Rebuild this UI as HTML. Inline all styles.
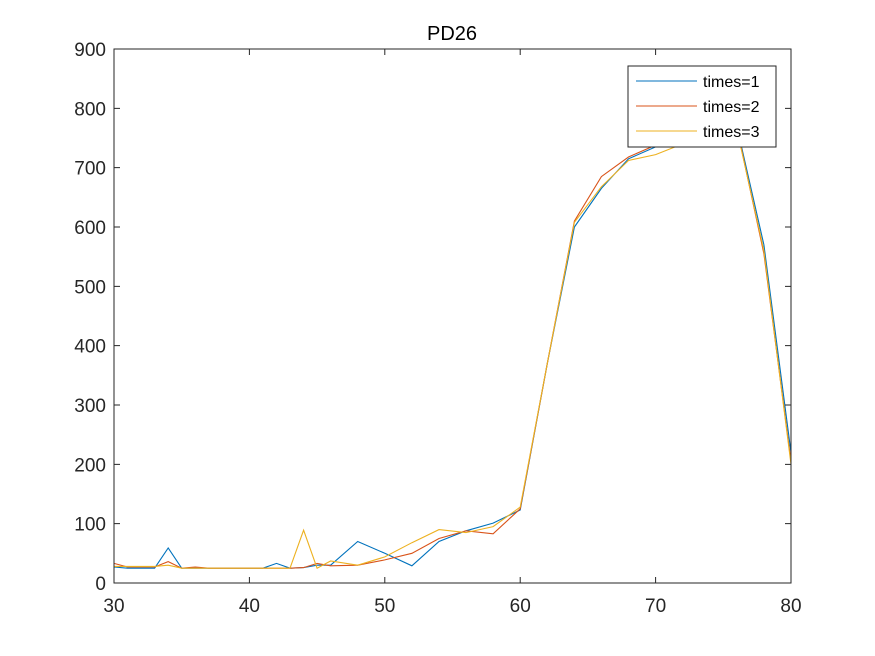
<!DOCTYPE html>
<html><head><meta charset="utf-8"><style>
body{margin:0;background:#fff;}
svg{display:block;font-family:"Liberation Sans",sans-serif;}
</style></head><body>
<svg id="chart" width="875" height="656" viewBox="0 0 875 656">
<rect x="0" y="0" width="875" height="656" fill="#fff"/>
<rect x="114" y="49" width="677" height="534" fill="#fff" stroke="none"/>
<g id="series"></g>
<rect x="114" y="49" width="677" height="534" fill="none" stroke="#262626" stroke-width="1"/>
<g id="ticks"></g>
<text x="452" y="40" text-anchor="middle" font-size="20" fill="#000">PD26</text>
<g id="legend"></g>
</svg>
<script>
const xs = [30,31,32,33,34,35,36,37,38,39,40,41,42,43,44,45,46,48,50,52,54,56,58,60,62,64,66,68,70,72,74,76,78,80];
const s1 = [27,25,25,25,59,25,25,25,25,25,25,25,33,25,26,30,30,70,50,29,70,88,101,123,370,600,665,715,735,750,760,770,570,220];
const s2 = [33,27,27,27,36,25,27,25,25,25,25,25,25,25,26,33,29,30,39,50,75,88,83,125,370,610,685,718,738,752,762,768,555,205];
const s3 = [28,28,28,28,30,25,25,25,25,25,25,25,25,25,89,25,37,30,44,68,90,85,95,128,370,608,668,712,722,740,755,765,560,200];
const seriesNames = ["times=1","times=2","times=3"];
const colors = ["#0072BD","#D95319","#EDB120"];
const xTicks = [30,40,50,60,70,80];
const yTicks = [0,100,200,300,400,500,600,700,800,900];
const NS="http://www.w3.org/2000/svg";
const X0=114,X1=791,Y0=583,Y1=49;
const xs_ = v => X0+(v-30)/(80-30)*(X1-X0);
const ys_ = v => Y0-(v-0)/(900-0)*(Y0-Y1);
const g=document.getElementById('series');
[s1,s2,s3].forEach((s,i)=>{
  const p=document.createElementNS(NS,'polyline');
  p.setAttribute('points',xs.map((x,j)=>xs_(x).toFixed(1)+','+ys_(s[j]).toFixed(1)).join(' '));
  p.setAttribute('fill','none');p.setAttribute('stroke',colors[i]);p.setAttribute('stroke-width','1.1');
  
  
  g.appendChild(p);
});
const t=document.getElementById('ticks');
xTicks.forEach(v=>{
  const x=xs_(v);
  const l=document.createElementNS(NS,'path');
  l.setAttribute('d',`M${x},${Y0}v-6M${x},${Y1}v6`);l.setAttribute('stroke','#262626');
  
  
  t.appendChild(l);
  const tx=document.createElementNS(NS,'text');
  tx.setAttribute('x',x);tx.setAttribute('y',612);tx.setAttribute('text-anchor','middle');tx.setAttribute('font-size','19');tx.setAttribute('fill','#262626');
  tx.textContent=v;
  
  
  t.appendChild(tx);
});
yTicks.forEach(v=>{
  const y=ys_(v);
  const l=document.createElementNS(NS,'path');
  l.setAttribute('d',`M${X0},${y}h6M${X1},${y}h-6`);l.setAttribute('stroke','#262626');
  
  
  t.appendChild(l);
  const tx=document.createElementNS(NS,'text');
  tx.setAttribute('x',106);tx.setAttribute('y',y+7);tx.setAttribute('text-anchor','end');tx.setAttribute('font-size','19');tx.setAttribute('fill','#262626');
  tx.textContent=v;
  
  
  t.appendChild(tx);
});
const lg=document.getElementById('legend');
const box=document.createElementNS(NS,'rect');
box.setAttribute('x',628);box.setAttribute('y',66);box.setAttribute('width',148);box.setAttribute('height',81);
box.setAttribute('fill','#fff');box.setAttribute('stroke','#262626');


lg.appendChild(box);
seriesNames.forEach((n,i)=>{
  const y=81+i*25;
  const l=document.createElementNS(NS,'line');
  l.setAttribute('x1',636);l.setAttribute('x2',697);l.setAttribute('y1',y);l.setAttribute('y2',y);l.setAttribute('stroke',colors[i]);
  
  
  lg.appendChild(l);
  const tx=document.createElementNS(NS,'text');
  tx.setAttribute('x',703);tx.setAttribute('y',y+6);tx.setAttribute('font-size','16');tx.setAttribute('fill','#000');
  tx.textContent=n;
  
  
  lg.appendChild(tx);
});
</script>
</body></html>
